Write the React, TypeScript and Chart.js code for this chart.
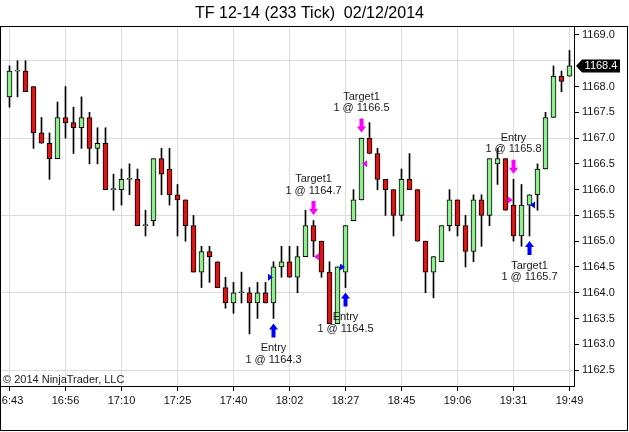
import React, { useEffect, useRef } from 'react';
import { Chart, registerables } from 'chart.js';

Chart.register(...registerables);

// ---- data ----
const timeLabels = ['16:43', '16:56', '17:10', '17:25', '17:40', '18:02', '18:27', '18:45', '19:06', '19:31', '19:49'];
const timeTickBars = [0, 7, 14, 21, 28, 35, 42, 49, 56, 63, 70];

const opens = [
  1167.8, 1168.3, 1168.3, 1168.0, 1167.1, 1166.9, 1166.6, 1167.4, 1167.3, 1167.2,
  1167.4, 1166.8, 1166.9, 1166.0, 1166.0, 1166.2, 1166.2, 1165.3, 1165.4, 1166.6,
  1166.4, 1165.9, 1165.8, 1165.3, 1164.4, 1164.8, 1164.6, 1164.1, 1163.8, 1164.0,
  1164.0, 1163.8, 1164.0, 1163.8, 1164.5, 1164.6, 1164.3, 1164.7, 1165.3, 1165.0,
  1164.4, 1163.4, 1164.4, 1165.4, 1165.8, 1167.0, 1166.7, 1166.2, 1166.0, 1165.5,
  1166.2, 1166.0, 1165.0, 1164.4, 1164.6, 1165.3, 1165.8, 1165.3, 1164.8, 1165.8,
  1165.5, 1166.5, 1166.6, 1165.7, 1165.1, 1165.7, 1165.9, 1166.4, 1167.4, 1168.2,
  1168.2,
];
const highs = [
  1168.4, 1168.5, 1168.5, 1168.0, 1167.4, 1167.1, 1167.7, 1168.0, 1167.6, 1167.8,
  1167.5, 1167.2, 1167.2, 1166.3, 1166.4, 1166.5, 1166.4, 1165.6, 1166.6, 1166.8,
  1166.8, 1166.1, 1165.8, 1165.5, 1164.9, 1164.9, 1164.6, 1164.3, 1164.2, 1164.4,
  1164.1, 1164.2, 1164.2, 1164.6, 1164.9, 1164.9, 1164.9, 1165.6, 1165.4, 1165.0,
  1164.6, 1164.5, 1165.3, 1166.0, 1167.0, 1167.3, 1166.8, 1166.2, 1166.0, 1166.4,
  1166.7, 1166.0, 1165.0, 1164.7, 1165.3, 1166.0, 1165.8, 1165.5, 1165.9, 1165.9,
  1166.6, 1166.8, 1166.6, 1166.2, 1166.1, 1165.9, 1166.5, 1167.5, 1168.4, 1168.3,
  1168.7,
];
const lows = [
  1167.6, 1167.8, 1167.9, 1166.8, 1166.9, 1166.2, 1166.6, 1167.0, 1166.7, 1166.8,
  1166.5, 1166.5, 1166.0, 1165.6, 1165.7, 1165.9, 1165.3, 1165.1, 1165.3, 1165.9,
  1165.7, 1165.1, 1165.0, 1164.4, 1164.1, 1164.2, 1164.1, 1163.7, 1163.6, 1163.8,
  1163.2, 1163.5, 1163.8, 1163.5, 1164.3, 1164.3, 1164.0, 1164.7, 1164.7, 1164.3,
  1163.4, 1163.4, 1164.1, 1165.4, 1165.8, 1166.7, 1166.0, 1165.5, 1165.1, 1165.4,
  1166.0, 1165.0, 1164.0, 1163.9, 1164.6, 1165.2, 1165.1, 1164.5, 1164.6, 1164.9,
  1165.3, 1166.1, 1165.6, 1165.0, 1164.9, 1165.1, 1165.6, 1166.4, 1167.4, 1167.9,
  1168.2,
];
const closes = [
  1168.3, 1168.3, 1167.9, 1167.1, 1166.9, 1166.6, 1167.4, 1167.3, 1167.2, 1167.4,
  1166.8, 1166.9, 1166.0, 1166.0, 1166.2, 1166.2, 1165.3, 1165.3, 1166.6, 1166.3,
  1165.9, 1165.8, 1165.3, 1164.4, 1164.8, 1164.7, 1164.1, 1163.8, 1164.0, 1164.0,
  1163.8, 1164.0, 1163.8, 1164.5, 1164.6, 1164.3, 1164.7, 1165.3, 1165.0, 1164.4,
  1163.4, 1164.5, 1165.3, 1165.8, 1167.0, 1166.7, 1166.2, 1166.0, 1165.5, 1166.2,
  1166.0, 1165.0, 1164.4, 1164.7, 1165.3, 1165.8, 1165.3, 1164.8, 1165.8, 1165.5,
  1166.6, 1166.6, 1165.6, 1165.1, 1165.7, 1165.9, 1166.4, 1167.4, 1168.2, 1168.1,
  1168.4,
];

const priceTicks = [1162.5, 1163.0, 1163.5, 1164.0, 1164.5, 1165.0, 1165.5, 1166.0, 1166.5, 1167.0, 1167.5, 1168.0, 1168.5, 1169.0];
const priceGridLines = [1162.5, 1164.0, 1165.5, 1167.0, 1168.5];

const tradeBars = [33, 38, 42, 44, 63, 65];
const tradePrices = [1164.3, 1164.7, 1164.5, 1166.5, 1165.8, 1165.7];
const tradeNames = ['Entry', 'Target1', 'Entry', 'Target1', 'Entry', 'Target1'];
const tradeSides = ['buy', 'sell', 'buy', 'sell', 'sell', 'buy'];
const tradeRoles = ['entry', 'exit', 'entry', 'exit', 'entry', 'exit'];
const tradeQty = [1, 1, 1, 1, 1, 1];

const lastPrice = 1168.4;
const titleText = 'TF 12-14 (233 Tick)  02/12/2014';
const copyrightText = '\u00A9 2014 NinjaTrader, LLC';

// ---- styles ----
const FONT = '"Liberation Sans", Arial, Helvetica, sans-serif';
const UP_COLOR = '#90EE90';
const DOWN_COLOR = '#DC1414';
const GRID_COLOR = '#DCDCDC';
const BUY_COLOR = '#0000FF';
const SELL_COLOR = '#FF00FF';

const hiddenByMarker = (v: number) => Math.abs(v - lastPrice) < 0.2;

const overlayPlugin = {
  id: 'ntOverlay',
  afterDatasetsDraw(chart: any) {
    const { ctx, scales } = chart;
    const x = scales.x;
    const y = scales.y;
    ctx.save();
    ctx.font = `11px ${FONT}`;
    ctx.textAlign = 'center';
    ctx.textBaseline = 'middle';
    tradeBars.forEach((b, k) => {
      const cx = x.getPixelForValue(b);
      const py = y.getPixelForValue(tradePrices[k]);
      const color = tradeSides[k] === 'buy' ? BUY_COLOR : SELL_COLOR;
      ctx.fillStyle = color;
      // execution triangle
      ctx.beginPath();
      if (tradeRoles[k] === 'entry') {
        ctx.moveTo(cx - 0.5, py);
        ctx.lineTo(cx - 5.5, py - 3.5);
        ctx.lineTo(cx - 5.5, py + 3.5);
      } else {
        ctx.moveTo(cx + 0.5, py);
        ctx.lineTo(cx + 5.5, py - 3.5);
        ctx.lineTo(cx + 5.5, py + 3.5);
      }
      ctx.closePath();
      ctx.fill();
      // arrow
      const L = 14;
      const HH = 6;
      const HW = 4.5;
      const SW = 2;
      const line1 = tradeNames[k];
      const line2 = `${tradeQty[k]} @ ${tradePrices[k].toFixed(1)}`;
      ctx.beginPath();
      if (tradeSides[k] === 'buy') {
        const tip = y.getPixelForValue(lows[b]) + 5;
        ctx.moveTo(cx, tip);
        ctx.lineTo(cx + HW, tip + HH);
        ctx.lineTo(cx + SW, tip + HH);
        ctx.lineTo(cx + SW, tip + L);
        ctx.lineTo(cx - SW, tip + L);
        ctx.lineTo(cx - SW, tip + HH);
        ctx.lineTo(cx - HW, tip + HH);
        ctx.closePath();
        ctx.fill();
        ctx.fillStyle = '#1a1a1a';
        ctx.fillText(line1, cx, tip + L + 10.5);
        ctx.fillText(line2, cx, tip + L + 22);
      } else {
        const tip = y.getPixelForValue(highs[b]) - 5.5;
        ctx.moveTo(cx, tip);
        ctx.lineTo(cx + HW, tip - HH);
        ctx.lineTo(cx + SW, tip - HH);
        ctx.lineTo(cx + SW, tip - L);
        ctx.lineTo(cx - SW, tip - L);
        ctx.lineTo(cx - SW, tip - HH);
        ctx.lineTo(cx - HW, tip - HH);
        ctx.closePath();
        ctx.fill();
        ctx.fillStyle = '#1a1a1a';
        ctx.fillText(line2, cx, tip - L - 10.5);
        ctx.fillText(line1, cx, tip - L - 22);
      }
    });
    ctx.restore();
  },
  afterDraw(chart: any) {
    const { ctx, scales, width } = chart;
    const y = scales.y;
    const area = chart.chartArea;
    ctx.save();
    // frame
    ctx.strokeStyle = '#000';
    ctx.lineWidth = 1;
    ctx.strokeRect(0.5, area.top - 0.5, width - 2, chart.height - area.top - 1);
    // title
    ctx.fillStyle = '#000';
    ctx.font = `16px ${FONT}`;
    ctx.textAlign = 'center';
    ctx.textBaseline = 'middle';
    ctx.fillText(titleText, 309.5, 13.5);
    // copyright
    ctx.font = `11px ${FONT}`;
    ctx.textAlign = 'left';
    ctx.fillStyle = '#1a1a1a';
    ctx.fillText(copyrightText, 3, area.bottom - 6);
    // last price marker
    const py = y.getPixelForValue(lastPrice);
    const x0 = area.right + 2;
    ctx.fillStyle = '#000';
    ctx.beginPath();
    ctx.moveTo(x0, py);
    ctx.lineTo(x0 + 6, py - 6.5);
    ctx.lineTo(x0 + 44, py - 6.5);
    ctx.lineTo(x0 + 44, py + 6.5);
    ctx.lineTo(x0 + 6, py + 6.5);
    ctx.closePath();
    ctx.fill();
    ctx.fillStyle = '#fff';
    ctx.textAlign = 'center';
    ctx.fillText(lastPrice.toFixed(1), x0 + 25, py + 0.5);
    ctx.restore();
  },
};

export default function App() {
  const ref = useRef<HTMLCanvasElement | null>(null);

  useEffect(() => {
    document.body.style.margin = '0';
    const canvas = ref.current;
    if (!canvas) return;

    const idx = opens.map((_, i) => i);
    const bodyColors = idx.map((i) => (closes[i] >= opens[i] ? UP_COLOR : DOWN_COLOR));

    const chart = new Chart(canvas, {
      type: 'bar',
      data: {
        datasets: [
          {
            label: 'body',
            data: idx.map((i) => ({ x: i, y: [opens[i], closes[i]] })) as any,
            backgroundColor: bodyColors,
            borderColor: '#000',
            borderWidth: 1,
            borderSkipped: false,
            grouped: false,
            barPercentage: 1,
            categoryPercentage: 1,
            maxBarThickness: 5,
            minBarLength: 1,
            order: 0,
          } as any,
          {
            label: 'wick',
            data: idx.map((i) => ({ x: i, y: [lows[i], highs[i]] })) as any,
            backgroundColor: '#000',
            borderWidth: 0,
            grouped: false,
            barPercentage: 1,
            categoryPercentage: 1,
            maxBarThickness: 1,
            order: 1,
          } as any,
        ],
      },
      options: {
        animation: false,
        responsive: false,
        devicePixelRatio: 1,
        layout: { padding: { left: 1, top: 27, right: 0, bottom: 0 } },
        font: { family: FONT, size: 11 },
        plugins: {
          legend: { display: false },
          tooltip: { enabled: false },
          title: { display: false },
        },
        scales: {
          x: {
            type: 'linear',
            min: -1.0625,
            max: 70.5625,
            offset: false,
            afterBuildTicks: (scale: any) => {
              scale.ticks = timeTickBars.map((v) => ({ value: v }));
            },
            afterFit: (scale: any) => {
              scale.height = 46;
              scale.paddingLeft = 0;
              scale.paddingRight = 0;
            },
            ticks: {
              autoSkip: false,
              maxRotation: 0,
              minRotation: 0,
              padding: 3,
              color: '#111',
              font: { family: FONT, size: 11 },
              callback: (_v: any, i: number) => timeLabels[i],
            },
            grid: {
              offset: false,
              color: GRID_COLOR,
              tickColor: '#000',
              tickLength: 5,
              drawTicks: true,
            },
            border: { display: true, color: '#000', width: 1 },
          },
          y: {
            type: 'linear',
            position: 'right',
            min: 1162.19,
            max: 1169.155,
            beginAtZero: false,
            afterBuildTicks: (scale: any) => {
              scale.ticks = priceTicks.map((v) => ({ value: v }));
            },
            afterFit: (scale: any) => {
              scale.width = 55;
              scale.paddingTop = 0;
              scale.paddingBottom = 0;
            },
            ticks: {
              autoSkip: false,
              padding: 3,
              color: '#111',
              font: { family: FONT, size: 11 },
              callback: (v: any) => (hiddenByMarker(Number(v)) ? '' : Number(v).toFixed(1)),
            },
            grid: {
              color: (c: any) =>
                c.tick && priceGridLines.some((g) => Math.abs(g - c.tick.value) < 1e-6) ? GRID_COLOR : 'rgba(0,0,0,0)',
              tickColor: (c: any) => (c.tick && hiddenByMarker(c.tick.value) ? 'rgba(0,0,0,0)' : '#000'),
              tickLength: 5,
              drawTicks: true,
            },
            border: { display: true, color: '#000', width: 1 },
          },
        },
      } as any,
      plugins: [overlayPlugin],
    });

    return () => {
      chart.destroy();
    };
  }, []);

  return <canvas ref={ref} width={629} height={432} style={{ display: 'block' }} />;
}
